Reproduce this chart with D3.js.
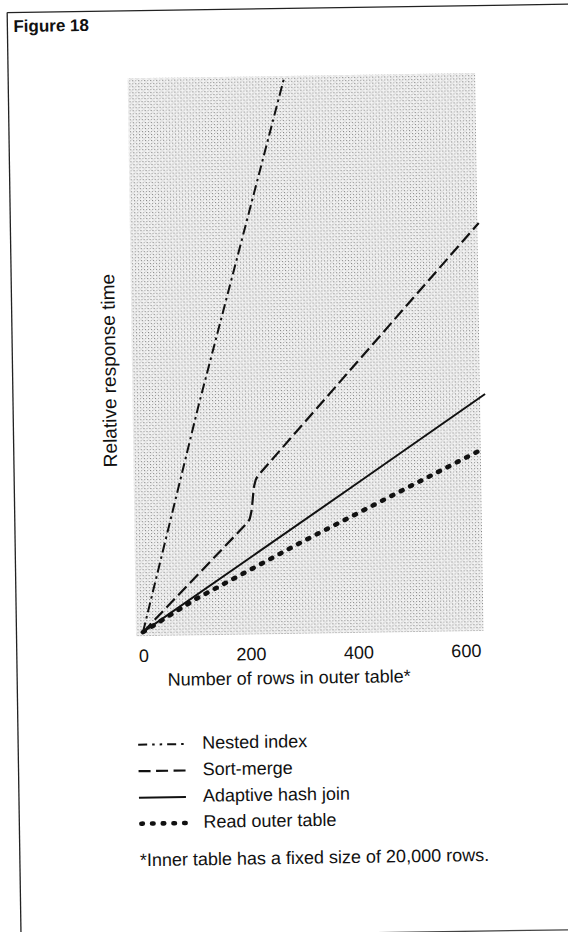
<!DOCTYPE html>
<html><head><meta charset="utf-8">
<script src="https://cdn.jsdelivr.net/npm/d3@7"></script>
<style>
body{margin:0;background:#fff}
svg{display:block}
text{font-family:"Liberation Sans",Arial,Helvetica,sans-serif;fill:#111}
</style>
</head><body>
<svg id="chart" width="568" height="932"></svg>
<script>
// ---- data (y is relative, no tick labels) ----
const title = "Figure 18";
const xTicks = [0, 200, 400, 600];
const xLabel = "Number of rows in outer table*";
const yLabel = "Relative response time";
const footnote = "*Inner table has a fixed size of 20,000 rows.";
const seriesNames = ["Nested index", "Sort-merge", "Adaptive hash join", "Read outer table"];

const nestedX = [0, 110, 278];
const nestedY = [0, 41, 100];
const sortX = [0, 199, 202, 205, 207, 209, 211, 214, 218, 636];
const sortY = [0, 19.7, 20.3, 21.5, 23.0, 24.8, 26.2, 27.3, 28.0, 73.2];
const hashX = [0, 200, 400, 643];
const hashY = [0, 13.1, 26.2, 42.2];
const readX = [0, 100, 300, 634];
const readY = [0, 5.9, 16.0, 32.1];

// ---- layout ----
const svg = d3.select("#chart");
const root = svg.append("g").attr("transform", "rotate(-0.86,284,466)");

const x = d3.scaleLinear().domain([0, 600]).range([140.5, 463]);
const y = d3.scaleLinear().domain([0, 100]).range([630, 78]);

// frame
root.append("line").attr("x1", 14).attr("x2", 620).attr("y1", 8.5).attr("y2", 8.5)
  .attr("stroke", "#222").attr("stroke-width", 1.3);
root.append("line").attr("x1", 14).attr("x2", 14).attr("y1", 8.5).attr("y2", 960)
  .attr("stroke", "#222").attr("stroke-width", 1.3);
root.append("line").attr("x1", 14).attr("x2", 620).attr("y1", 934).attr("y2", 934)
  .attr("stroke", "#444").attr("stroke-width", 1.3);

// title
root.append("text").attr("x", 20).attr("y", 28).attr("font-size", 17)
  .attr("font-weight", "bold").text(title);

// stipple pattern background
const defs = svg.append("defs");
const pat = defs.append("pattern").attr("id", "stip").attr("patternUnits", "userSpaceOnUse")
  .attr("width", 6).attr("height", 6);
pat.append("rect").attr("width", 6).attr("height", 6).attr("fill", "#f2f2f2");
[[0,0,"#808080"],[3,0,"#a8a8a8"],[0,3,"#989898"],[3,3,"#888888"],[1.5,1.5,"#c8c8c8"],[4.5,4.5,"#c0c0c0"]]
  .forEach(([px, py, c]) => pat.append("rect").attr("x", px).attr("y", py)
    .attr("width", 1.1).attr("height", 1.1).attr("fill", c));

root.append("rect").attr("x", x(0) - 7).attr("y", y(100) - 2)
  .attr("width", x(600) + 18 - (x(0) - 7)).attr("height", y(0) + 4 - (y(100) - 2))
  .attr("fill", "url(#stip)");

// lines
const line = d3.line().x(d => x(d[0])).y(d => y(d[1])).curve(d3.curveLinear);
const zip = (a, b) => a.map((v, i) => [v, b[i]]);
const styles = [
  {dash: "10,4,2.5,4", w: 2, cap: "butt"},
  {dash: "12,5", w: 2.2, cap: "butt"},
  {dash: null, w: 2, cap: "butt"},
  {dash: "2,8.5", w: 4.6, cap: "round"}
];
const seriesData = [zip(nestedX, nestedY), zip(sortX, sortY), zip(hashX, hashY), zip(readX, readY)];
seriesData.forEach((d, i) => {
  const p = root.append("path").attr("d", line(d)).attr("fill", "none")
    .attr("stroke", "#111").attr("stroke-width", styles[i].w)
    .attr("stroke-linecap", styles[i].cap).attr("stroke-linejoin", "round");
  if (styles[i].dash) p.attr("stroke-dasharray", styles[i].dash);
});

// x tick labels (no axis line in original)
const xAxis = d3.axisBottom(x).tickValues(xTicks).tickSize(0).tickPadding(0).tickFormat(d3.format("d"));
const ax = root.append("g").attr("transform", "translate(0,647)").call(xAxis);
ax.select(".domain").remove();
ax.selectAll("text").attr("font-size", 18).attr("font-family", "Liberation Sans, Arial, sans-serif")
  .attr("fill", "#111");

root.append("text").attr("x", 286).attr("y", 684).attr("text-anchor", "middle")
  .attr("font-size", 18).text(xLabel);

root.append("text").attr("transform", "translate(117,368) rotate(-90)")
  .attr("text-anchor", "middle").attr("font-size", 19).text(yLabel);

// legend
const legY = [747.5, 774, 800.5, 826.5];
seriesNames.forEach((n, i) => {
  const ly = legY[i] - 5;
  const p = root.append("line").attr("x1", 134).attr("x2", 181).attr("y1", ly).attr("y2", ly)
    .attr("stroke", "#111").attr("stroke-width", styles[i].w)
    .attr("stroke-linecap", styles[i].cap);
  if (i === 0) p.attr("stroke-dasharray", "9,5,2.5,5,2.5,5");
  else if (i === 1) p.attr("stroke-dasharray", "12,5.5");
  else if (i === 3) p.attr("stroke-dasharray", "1.5,9.2").attr("x1", 136);
  root.append("text").attr("x", 198).attr("y", legY[i]).attr("font-size", 18).text(n);
});

root.append("text").attr("x", 134).attr("y", 864).attr("font-size", 18).text(footnote);
</script>
</body></html>
